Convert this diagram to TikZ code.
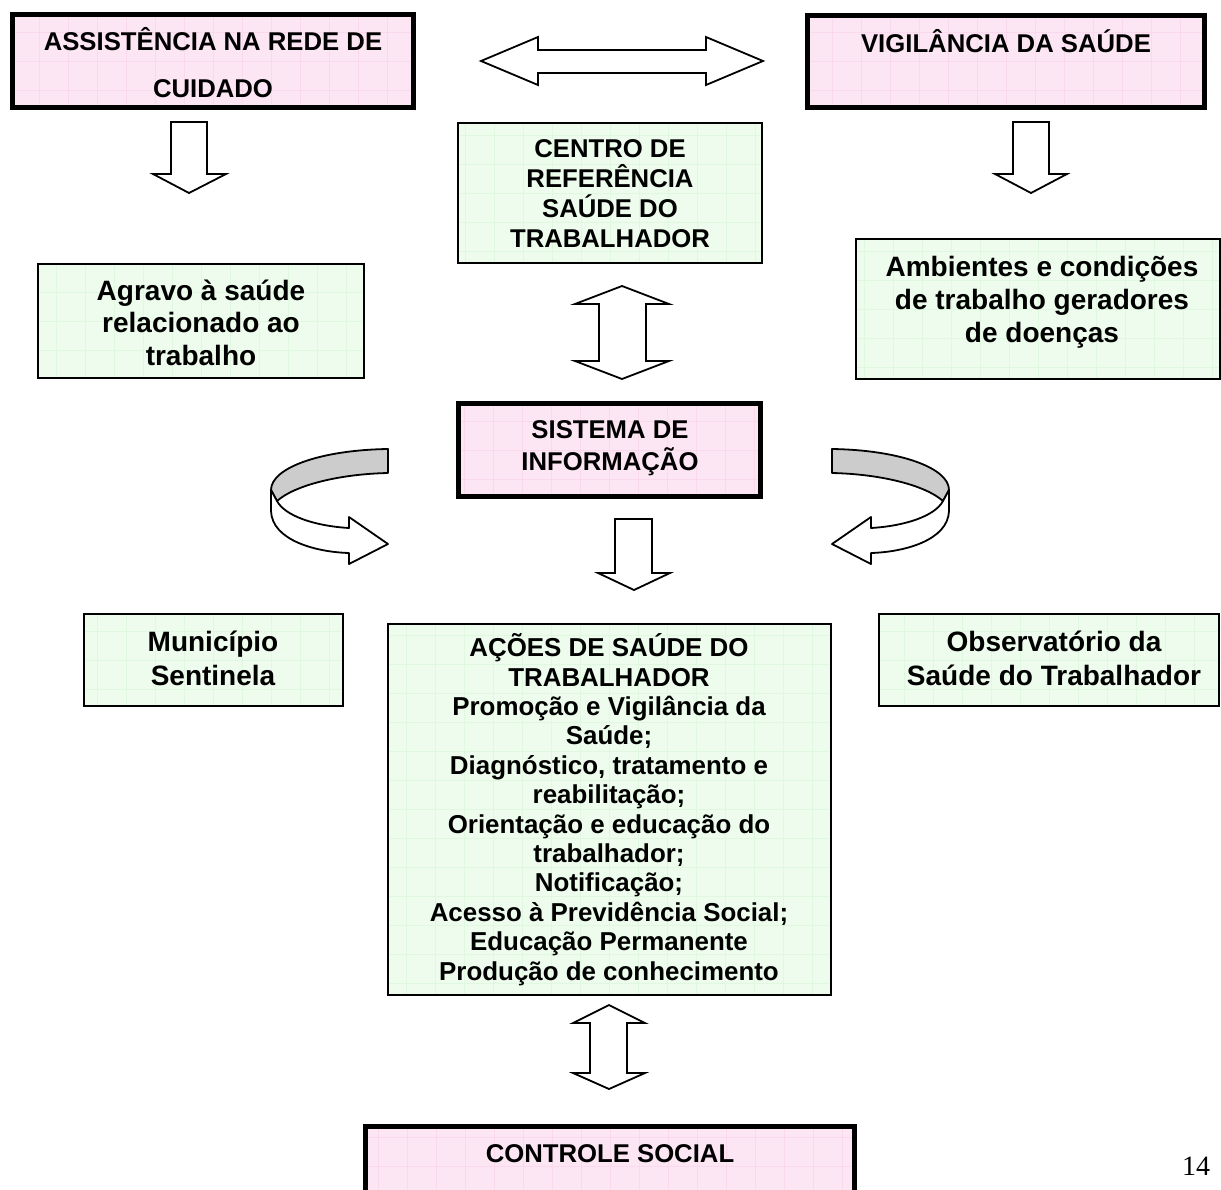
\documentclass[tikz,border=0pt]{standalone}
\usepackage{fontspec}
\setmainfont{Liberation Sans}
\newfontfamily\pagenumfont{Liberation Serif}
\definecolor{pinkfill}{RGB}{252,230,243}
\definecolor{pinkgrid}{RGB}{249,217,235}
\definecolor{greenfill}{RGB}{237,252,237}
\definecolor{greengrid}{RGB}{224,247,224}
\definecolor{ribbongrey}{RGB}{204,204,204}
\tikzset{
  pinkbox/.style={draw=black, line width=5pt, fill=pinkfill, rectangle, inner sep=0pt,
    path picture={\draw[pinkgrid, line width=0.5pt, step=29pt]
      (path picture bounding box.south west) grid (path picture bounding box.north east);}},
  greenbox/.style={draw=black, line width=2.5pt, fill=greenfill, rectangle, inner sep=0pt,
    path picture={\draw[greengrid, line width=0.5pt, step=29pt]
      (path picture bounding box.south west) grid (path picture bounding box.north east);}},
  hdr/.style={font=\bfseries\fontsize{25.7}{30}\selectfont, align=center, anchor=base, inner sep=0pt},
  bodytxt/.style={font=\bfseries\fontsize{28}{33}\selectfont, align=center, anchor=base, inner sep=0pt},
  blockarrow/.style={draw=black, fill=white, line width=1.8pt, line join=miter},
  ribbon/.style={draw=black, line width=1.8pt, line join=round}
}
\begin{document}
\begin{tikzpicture}[x=1pt, y=-1pt]
\useasboundingbox (0,0) rectangle (1221,1189);

% ---------- boxes ----------
\node[pinkbox, minimum width=401pt, minimum height=93pt] (assist) at (213,61) {};
\node[pinkbox, minimum width=397pt, minimum height=92pt] (vigil) at (1006,61.5) {};
\node[greenbox, minimum width=304pt, minimum height=140pt] (centro) at (610,193) {};
\node[greenbox, minimum width=326pt, minimum height=114pt] (agravo) at (201,321) {};
\node[greenbox, minimum width=364pt, minimum height=140pt] (ambient) at (1038,309) {};
\node[pinkbox, minimum width=302pt, minimum height=93pt] (sistema) at (609.5,450) {};
\node[greenbox, minimum width=259pt, minimum height=92pt] (munic) at (213.5,660) {};
\node[greenbox, line width=2pt, minimum width=443pt, minimum height=371pt] (acoes) at (609.5,809.5) {};
\node[greenbox, minimum width=340pt, minimum height=92pt] (observ) at (1049,660) {};
\node[pinkbox, minimum width=489pt, minimum height=80pt] (controle) at (610,1166.5) {};

% ---------- texts (anchor = baseline of the last line) ----------
\node[hdr, font=\bfseries\fontsize{25.7}{47}\selectfont] (tassist) at (213,97) {ASSISTÊNCIA NA REDE DE\\CUIDADO};
\node[hdr] (tvigil) at (1006,52) {VIGILÂNCIA DA SAÚDE};
\node[hdr] (tcentro) at (610,247) {CENTRO DE\\REFERÊNCIA\\SAÚDE DO\\TRABALHADOR};
\node[bodytxt, font=\bfseries\fontsize{28}{32.5}\selectfont] (tagravo) at (201,365) {Agravo à saúde\\relacionado ao\\trabalho};
\node[bodytxt] (tambient) at (1042,342) {Ambientes e condições\\de trabalho geradores\\de doenças};
\node[hdr, font=\bfseries\fontsize{25.7}{32}\selectfont] (tsistema) at (610,470) {SISTEMA DE\\INFORMAÇÃO};
\node[bodytxt, font=\bfseries\fontsize{28}{34}\selectfont] (tmunic) at (213,685) {Município\\Sentinela};
\node[bodytxt, font=\bfseries\fontsize{28}{34}\selectfont] (tobserv) at (1054,685) {Observatório da\\Saúde do Trabalhador};
\node[bodytxt, font=\bfseries\fontsize{25.9}{29.4}\selectfont] (tacoes) at (609,980)
  {AÇÕES DE SAÚDE DO\\TRABALHADOR\\Promoção e Vigilância da\\Saúde;\\Diagnóstico, tratamento e\\reabilitação;\\Orientação e educação do\\trabalhador;\\Notificação;\\Acesso à Previdência Social;\\Educação Permanente\\Produção de conhecimento};
\node[hdr] (tcontrole) at (610,1162) {CONTROLE SOCIAL};
\node[anchor=base, inner sep=0pt, font=\pagenumfont\fontsize{28}{30}\selectfont] (pagenum) at (1196,1175) {14};

% ---------- block arrows ----------
% horizontal double arrow between top boxes
\draw[blockarrow] (481,61) -- (538,37) -- (538,50) -- (706,50) -- (706,37) -- (763,61)
  -- (706,85) -- (706,73) -- (538,73) -- (538,85) -- cycle;
% down arrow under Assistencia
\draw[blockarrow] (171,122) -- (207,122) -- (207,174) -- (226,174) -- (189,193)
  -- (153,174) -- (171,174) -- cycle;
% down arrow under Vigilancia
\draw[blockarrow] (1013,122) -- (1049,122) -- (1049,174) -- (1067,174) -- (1031,193)
  -- (995,174) -- (1013,174) -- cycle;
% vertical double arrow Centro <-> Sistema
\draw[blockarrow] (622,286) -- (669,304) -- (646,304) -- (646,361) -- (669,361) -- (622,379)
  -- (575,361) -- (599,361) -- (599,304) -- (575,304) -- cycle;
% down arrow under Sistema
\draw[blockarrow] (615,519) -- (652,519) -- (652,573) -- (670,573) -- (634,590)
  -- (598,573) -- (615,573) -- cycle;
% vertical double arrow Acoes <-> Controle
\draw[blockarrow] (609,1005) -- (645,1023) -- (627,1023) -- (627,1073) -- (645,1073) -- (609,1089)
  -- (573,1073) -- (590,1073) -- (590,1023) -- (573,1023) -- cycle;

% ---------- curved ribbon arrows ----------
% left
\draw[ribbon, fill=ribbongrey] (388,449) .. controls (320,450) and (271,468) .. (271,490)
  -- (277,501) .. controls (295,485) and (340,474) .. (388,473) -- cycle;
\draw[ribbon, fill=white] (271,490) -- (271,511) .. controls (272,540) and (315,552) .. (349,553)
  -- (349,564) -- (388,544) -- (349,517) -- (349,528)
  .. controls (315,526) and (285,516) .. (277,501) -- cycle;
% right
\draw[ribbon, fill=ribbongrey] (832,449) .. controls (900,450) and (949,468) .. (949,490)
  -- (943,501) .. controls (925,485) and (880,474) .. (832,473) -- cycle;
\draw[ribbon, fill=white] (949,490) -- (949,511) .. controls (948,540) and (905,552) .. (871,553)
  -- (871,564) -- (832,544) -- (871,517) -- (871,528)
  .. controls (905,526) and (935,516) .. (943,501) -- cycle;
\end{tikzpicture}
\end{document}
